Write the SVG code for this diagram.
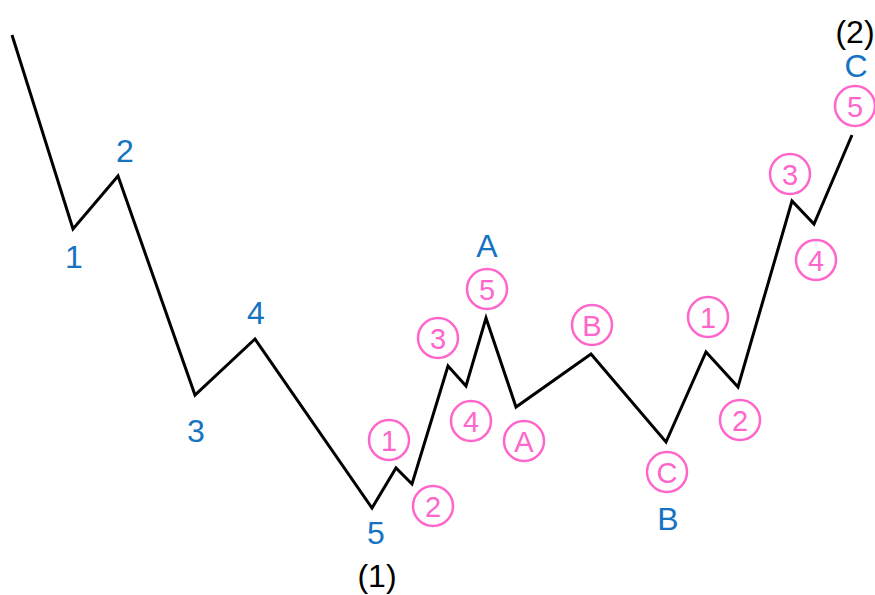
<svg xmlns="http://www.w3.org/2000/svg" width="875" height="595" viewBox="0 0 875 595">
<style>
.wave{fill:none;stroke:#000;stroke-width:3;stroke-linejoin:miter}
.c{fill:#fff;stroke:#ff66cc;stroke-width:2.5}
.ct{font-family:"Liberation Sans",Arial,sans-serif;font-size:29px;fill:#ff66cc;text-anchor:middle}
.bl{font-family:"Liberation Sans",Arial,sans-serif;font-size:32px;fill:#1573c2;text-anchor:middle}
.bk{font-family:"Liberation Sans",Arial,sans-serif;font-size:32px;fill:#000;text-anchor:middle}
</style>
<rect width="875" height="595" fill="#fff"/>
<g id="connectors">
<polyline class="wave" points="12,35 73,229 118,176 195,395 255,339 372,508 396,468 412,484 448,366 466,386 486,318 516,407 591,354 666,442 706,352 738,387 792,201 814,224 852,135"/>
</g>
<g id="labels-major">
<text class="bl" x="74" y="268">1</text>
<text class="bl" x="125" y="162">2</text>
<text class="bl" x="196" y="442">3</text>
<text class="bl" x="256" y="324">4</text>
<text class="bl" x="376" y="544">5</text>
<text class="bk" x="377" y="587">(1)</text>
<text class="bl" x="487" y="257">A</text>
<text class="bl" x="668" y="530">B</text>
<text class="bl" x="856" y="77">C</text>
<text class="bk" x="855" y="43">(2)</text>
</g>
<g id="c1a"><circle class="c" cx="389" cy="440" r="20"/><text class="ct" x="389" y="450.5">1</text></g>
<g id="c2a"><circle class="c" cx="433" cy="506" r="20"/><text class="ct" x="433" y="516.5">2</text></g>
<g id="c3a"><circle class="c" cx="438" cy="338" r="20"/><text class="ct" x="438" y="348.5">3</text></g>
<g id="c4a"><circle class="c" cx="471" cy="421" r="20"/><text class="ct" x="471" y="431.5">4</text></g>
<g id="c5a"><circle class="c" cx="487" cy="289" r="20"/><text class="ct" x="487" y="299.5">5</text></g>
<g id="cA"><circle class="c" cx="524" cy="441" r="20"/><text class="ct" x="524" y="451.5">A</text></g>
<g id="cB"><circle class="c" cx="592" cy="325" r="20"/><text class="ct" x="592" y="335.5">B</text></g>
<g id="cC"><circle class="c" cx="667" cy="472" r="20"/><text class="ct" x="667" y="482.5">C</text></g>
<g id="c1b"><circle class="c" cx="708" cy="317" r="20"/><text class="ct" x="708" y="327.5">1</text></g>
<g id="c2b"><circle class="c" cx="740" cy="420" r="20"/><text class="ct" x="740" y="430.5">2</text></g>
<g id="c3b"><circle class="c" cx="790" cy="174" r="20"/><text class="ct" x="790" y="184.5">3</text></g>
<g id="c4b"><circle class="c" cx="816" cy="260" r="20"/><text class="ct" x="816" y="270.5">4</text></g>
<g id="c5b"><circle class="c" cx="855" cy="106" r="20"/><text class="ct" x="855" y="116.5">5</text></g>
</svg>
